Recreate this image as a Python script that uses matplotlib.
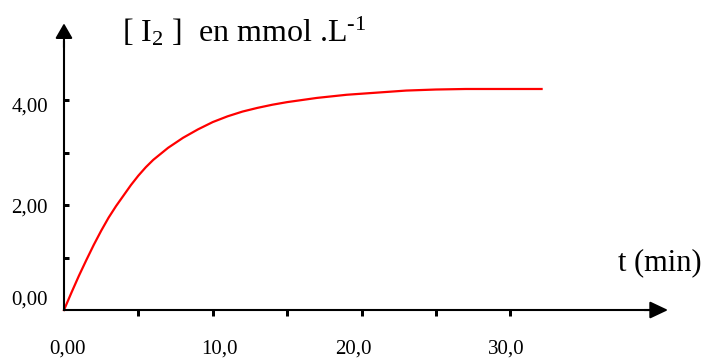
import matplotlib
matplotlib.use("Agg")
import matplotlib.pyplot as plt

plt.rcParams["font.family"] = ["Liberation Serif", "DejaVu Serif"]
plt.rcParams["mathtext.fontset"] = "custom"
plt.rcParams["mathtext.rm"] = "Liberation Serif"
plt.rcParams["mathtext.it"] = "Liberation Serif:italic"
plt.rcParams["mathtext.bf"] = "Liberation Serif:bold"
plt.rcParams["mathtext.default"] = "regular"

# Iodine concentration versus time
t_min = [0, 0.5, 1, 1.5, 2, 2.5, 3, 3.5, 4, 4.5, 5, 5.5, 6, 7, 8, 9, 10,
         11, 12, 13, 14, 15, 16, 17, 18, 19, 20, 21, 22, 23, 25, 27, 29,
         32.1]
c_i2 = [0, 0.33, 0.65, 0.95, 1.24, 1.51, 1.76, 1.98, 2.18, 2.38, 2.56,
        2.72, 2.86, 3.09, 3.28, 3.44, 3.58, 3.69, 3.78, 3.85, 3.91, 3.96,
        4.00, 4.04, 4.07, 4.10, 4.12, 4.14, 4.16, 4.18, 4.20, 4.21, 4.21,
        4.21]

x_ticks = [0, 10, 20, 30]
x_minor = [5, 15, 25]
x_labels = ["0,00", "10,0", "20,0", "30,0"]
y_ticks = [0, 1, 2, 3, 4]
y_label_vals = [0, 2, 4]
y_labels = ["0,00", "2,00", "4,00"]

# label nudges in pixels
x_label_nudge = [4, 7, -8, -4]
y_label_nudge = [5, -8, -12]

px = 0.72  # points per pixel at 100 dpi

fig = plt.figure(figsize=(7.06, 3.59), dpi=100)
ax = fig.add_axes([0, 0, 1, 1])
ax.set_xlim(-4.30, 43.15)
ax.set_ylim(-0.933, 5.905)

for s in ("top", "right"):
    ax.spines[s].set_visible(False)
ax.spines["left"].set_position(("data", 0))
ax.spines["bottom"].set_position(("data", 0))
ax.spines["left"].set_bounds(0, 5.1)
ax.spines["bottom"].set_bounds(0, 39.8)
for s in ("left", "bottom"):
    ax.spines[s].set_linewidth(1.5)

# axis arrows
ax.annotate("", xy=(40.6, 0), xytext=(39.0, 0),
            arrowprops=dict(arrowstyle="-|>,head_length=11,head_width=5.2",
                            mutation_scale=1, color="black", lw=1.5,
                            shrinkA=0, shrinkB=0))
ax.annotate("", xy=(0, 5.46), xytext=(0, 5.0),
            arrowprops=dict(arrowstyle="-|>,head_length=9,head_width=5.2",
                            mutation_scale=1, color="black", lw=1.5,
                            shrinkA=0, shrinkB=0))

ax.set_xticks(x_ticks)
ax.set_xticks(x_minor, minor=True)
ax.set_yticks(y_ticks)
ax.tick_params(axis="x", which="both", direction="out", length=6 * px,
               width=3 * px, labelbottom=False)
ax.tick_params(axis="y", which="both", direction="in", length=5 * px,
               width=3 * px, labelleft=False)
ax.xaxis.get_major_ticks()[0].tick1line.set_visible(False)
ax.yaxis.get_major_ticks()[0].tick1line.set_visible(False)

for v, lab, dx in zip(x_ticks, x_labels, x_label_nudge):
    ax.annotate(lab, xy=(v, 0), xytext=(dx * px, -44 * px),
                textcoords="offset points", ha="center", va="baseline",
                fontsize=15)
for v, lab, dy in zip(y_label_vals, y_labels, y_label_nudge):
    ax.annotate(lab, xy=(0, v), xytext=(-16 * px, dy * px),
                textcoords="offset points", ha="right", va="baseline",
                fontsize=15)

ax.plot(t_min, c_i2, color="red", lw=1.6, solid_joinstyle="round")

fig.text(122 / 706, 1 - 42 / 359, r"[ I$_2$ ]  en mmol .L$^{\text{-1}}$",
         fontsize=23, ha="left", va="baseline")
fig.text(618 / 706, 1 - 270 / 359, "t (min)", fontsize=22,
         ha="left", va="baseline")

fig.savefig("out.png", dpi=100)
